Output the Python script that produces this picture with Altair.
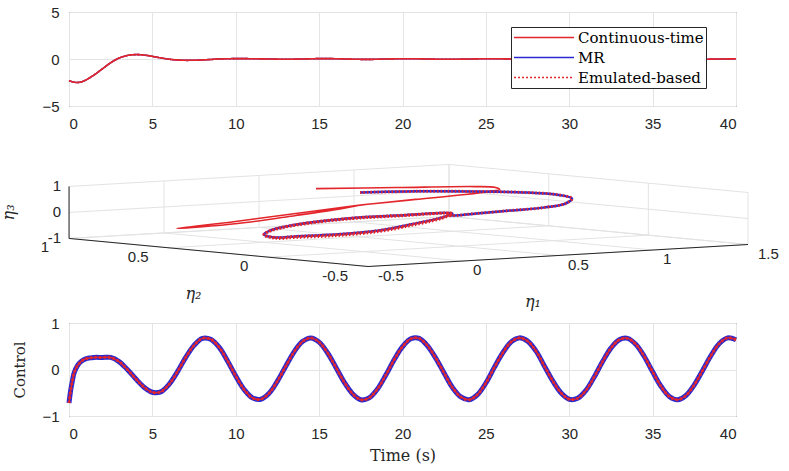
import altair as alt
import pandas as pd

# ---------------- data ----------------
SERIES = ["Continuous-time", "MR", "Emulated-based"]
RED = "#e3262b"
BLUE = "#2a2ad0"

# top panel (first state vs time)
top_t = [0, 0.25, 0.5, 0.75, 1.0, 1.5, 2.0, 2.5, 3.0, 3.5, 4.0, 4.5, 5.0, 5.5, 6.0, 6.5, 7.0,
         7.5, 8.0, 8.5, 9.0, 10, 11, 12, 13, 14, 15, 16, 17, 18, 19, 20, 21, 22, 23, 24, 25,
         26, 27, 28, 29, 30, 31, 32, 33, 34, 35, 36, 37, 38, 39, 40]
top_ct = [-2.3, -2.45, -2.5, -2.42, -2.25, -1.7, -1.05, -0.4, 0.1, 0.38, 0.47, 0.42, 0.28,
          0.12, -0.02, -0.1, -0.14, -0.13, -0.1, -0.05, 0.0, 0.04, 0.03, 0.0, -0.03, 0.0,
          0.04, 0.03, -0.02, -0.04, 0.0, 0.03, 0.02, -0.02, -0.03, 0.0, 0.03, 0.02, -0.02,
          -0.03, 0.0, 0.03, 0.02, -0.02, -0.03, 0.0, 0.03, 0.02, -0.02, -0.03, 0.0, 0.02]
top_mr = top_ct
top_em = top_ct

# bottom panel (control vs time)
ctl_t = [0, 0.1, 0.2, 0.3, 0.5, 0.75, 1.0, 1.25, 1.5, 2.0, 2.5, 3.0, 3.5, 4.0, 4.5, 5.0, 5.5,
         6.0, 6.5, 7.0, 7.5, 8.0, 8.5, 9.0, 9.5, 10.0, 10.5, 11.0, 11.5, 12.0, 12.5, 13.0,
         13.5, 14.0, 14.5, 15.0, 15.5, 16.0, 16.5, 17.0, 17.5, 18.0, 18.5, 19.0, 19.5, 20.0,
         20.5, 21.0, 21.5, 22.0, 22.5, 23.0, 23.5, 24.0, 24.5, 25.0, 25.5, 26.0, 26.5, 27.0,
         27.5, 28.0, 28.5, 29.0, 29.5, 30.0, 30.5, 31.0, 31.5, 32.0, 32.5, 33.0, 33.5, 34.0,
         34.5, 35.0, 35.5, 36.0, 36.5, 37.0, 37.5, 38.0, 38.5, 39.0, 39.5, 40.0]
ctl_ct = [-0.72, -0.45, -0.25, -0.08, 0.08, 0.18, 0.23, 0.25, 0.26, 0.26, 0.26, 0.17, 0.0,
          -0.2, -0.38, -0.49, -0.48, -0.32, -0.05, 0.26, 0.52, 0.67, 0.65, 0.48, 0.19, -0.14,
          -0.43, -0.61, -0.64, -0.51, -0.25, 0.07, 0.38, 0.60, 0.68, 0.59, 0.36, 0.05, -0.27,
          -0.52, -0.65, -0.61, -0.42, -0.12, 0.21, 0.49, 0.66, 0.67, 0.51, 0.24, -0.08, -0.39,
          -0.59, -0.65, -0.54, -0.29, 0.04, 0.35, 0.59, 0.68, 0.61, 0.40, 0.08, -0.24, -0.50,
          -0.64, -0.62, -0.45, -0.16, 0.17, 0.46, 0.64, 0.67, 0.54, 0.28, -0.05, -0.36, -0.58,
          -0.65, -0.56, -0.33, -0.02, 0.30, 0.56, 0.68, 0.64]
ctl_mr = ctl_ct
ctl_em = ctl_ct

# middle panel: 3-D trajectories (eta1, eta2, eta3)
ct_e1 = [0.59, 0.89, 1.18, 1.21, 1.20, 1.15, 1.05, 0.81, 0.63, 0.55, 0.20, -0.18, -0.48, -0.20, 0.18, 0.43, 0.55]
ct_e2 = [0.80, 0.68, 0.56, 0.49, 0.46, 0.46, 0.49, 0.51, 0.54, 0.55, 0.53, 0.47, 0.48, 0.44, 0.51, 0.52, 0.55]
ct_e3 = [0.60, 0.60, 0.60, 0.60, 0.55, 0.50, 0.40, 0.30, 0.20, 0.15, 0.00, -0.10, -0.25, -0.15, -0.05, 0.10, 0.15]

mr_e1 = [0.78, 1.00, 1.19, 1.32, 1.39, 1.35, 1.20, 1.03, 0.87, 0.70, 0.59, 0.71, 0.46, 0.24, -0.09,
         -0.33, -0.45, -0.47, -0.37, -0.22, 0.02, 0.34, 0.58, 0.71]
mr_e2 = [0.76, 0.69, 0.57, 0.44, 0.36, 0.24, 0.13, 0.08, 0.09, 0.10, 0.13, 0.23, 0.27, 0.31, 0.25,
         0.15, 0.07, -0.01, -0.01, -0.07, -0.06, 0.06, 0.16, 0.23]
mr_e3 = [0.40, 0.40, 0.40, 0.40, 0.35, 0.30, 0.25, 0.20, 0.15, 0.10, 0.05, 0.00, 0.00, -0.05, -0.10,
         -0.15, -0.20, -0.25, -0.25, -0.20, -0.15, -0.10, -0.05, 0.00]
# emulated-based: same transient, limit cycle traced a second time slightly lower
em_e1 = mr_e1 + [0.46, 0.24, -0.09, -0.33, -0.45, -0.47, -0.37, -0.22, 0.02, 0.34, 0.58, 0.71]
em_e2 = mr_e2 + [0.27, 0.31, 0.25, 0.15, 0.07, -0.01, -0.01, -0.07, -0.06, 0.06, 0.16, 0.23]
em_e3 = mr_e3 + [-0.02, -0.07, -0.12, -0.17, -0.22, -0.28, -0.29, -0.24, -0.19, -0.14, -0.08, -0.02]

eta1_ticks = [-0.5, 0, 0.5, 1, 1.5]
eta2_ticks = [-0.5, 0, 0.5, 1]
eta3_ticks = [-1, 0, 1]

# ---------------- layout constants ----------------
W = 667
TOP_H = 94
BOT_H = 93
MID_TOP = 131.5
MID_H = 181

FONT = "Liberation Sans"
SERIF = "DejaVu Serif"
TXT = "#262626"
AX = dict(labelFont=FONT, labelFontSize=15, labelColor=TXT, ticks=False, domain=False,
          grid=True, gridColor="#e4e4e4", gridWidth=1, labelPadding=10, format="~g")

# ---------------- top panel ----------------
top_df = pd.concat([
    pd.DataFrame({"t": top_t, "v": top_ct, "series": SERIES[0]}),
    pd.DataFrame({"t": top_t, "v": top_mr, "series": SERIES[1]}),
    pd.DataFrame({"t": top_t, "v": top_em, "series": SERIES[2]}),
])

LEG = alt.Legend(title=None, orient="none", legendX=442, legendY=15,
                 symbolType="M-1,0H7", symbolSize=225, labelOffset=48,
                 labelFont=SERIF, labelFontSize=15, labelColor="black",
                 rowPadding=3, padding=2, strokeColor=TXT, fillColor="white",
                 cornerRadius=0)

xt = alt.X("t:Q", scale=alt.Scale(domain=[0, 40], nice=False),
           axis=alt.Axis(values=[0, 5, 10, 15, 20, 25, 30, 35, 40], title=None, **AX))
yt = alt.Y("v:Q", scale=alt.Scale(domain=[-5, 5], nice=False),
           axis=alt.Axis(values=[-5, 0, 5], title=None, **AX))

def top_layer(name):
    return alt.Chart(top_df).transform_filter(alt.datum.series == name).mark_line(
        interpolate="catmull-rom").encode(
        x=xt, y=yt,
        color=alt.Color("series:N", scale=alt.Scale(domain=SERIES, range=[RED, BLUE, RED]), legend=LEG),
        strokeDash=alt.StrokeDash("series:N", scale=alt.Scale(domain=SERIES, range=[[1, 0], [1, 0], [2, 2]]), legend=LEG),
        strokeWidth=alt.StrokeWidth("series:N", scale=alt.Scale(domain=SERIES, range=[1.6, 1.6, 3]), legend=LEG),
    )

top = alt.layer(top_layer(SERIES[1]), top_layer(SERIES[0]), top_layer(SERIES[2])).properties(
    width=W, height=TOP_H)

# ---------------- middle panel (3-D projection) ----------------
PXE = "299 + 190*(datum.{a}+0.5) - 199.3*(datum.{b}+0.5)"
PYE = "265 - 11*(datum.{a}+0.5) - 18.7*(datum.{b}+0.5) - 26*(datum.{c}+1)"

def proj(ch, a="e1", b="e2", c="e3", px="px", py="py"):
    return ch.transform_calculate(**{px: PXE.format(a=a, b=b), py: PYE.format(a=a, b=b, c=c)})

XS = alt.Scale(domain=[0, W], nice=False, zero=False)
YS = alt.Scale(domain=[MID_TOP, MID_TOP + MID_H], reverse=True, nice=False, zero=False)

segs = []
for v in eta1_ticks:
    segs.append(("grid", v, 1, -1, v, 1, 1))
    segs.append(("grid", v, -0.5, -1, v, 1, -1))
for v in eta2_ticks:
    segs.append(("grid", 1.5, v, -1, 1.5, v, 1))
    segs.append(("grid", -0.5, v, -1, 1.5, v, -1))
for v in eta3_ticks:
    segs.append(("grid", -0.5, 1, v, 1.5, 1, v))
    segs.append(("grid", 1.5, -0.5, v, 1.5, 1, v))
segs.append(("axis", eta1_ticks[0], eta2_ticks[0], -1, eta1_ticks[-1], eta2_ticks[0], -1))
segs.append(("axis", eta1_ticks[0], eta2_ticks[0], -1, eta1_ticks[0], eta2_ticks[-1], -1))
segs.append(("axis", eta1_ticks[0], eta2_ticks[-1], -1, eta1_ticks[0], eta2_ticks[-1], 1))
seg_df = pd.DataFrame(segs, columns=["kind", "e1", "e2", "e3", "f1", "f2", "f3"])

def seg_layer(kind, color):
    ch = alt.Chart(seg_df).transform_filter(alt.datum.kind == kind)
    ch = proj(ch)
    ch = proj(ch, "f1", "f2", "f3", "qx", "qy")
    return ch.mark_rule(color=color, strokeWidth=1).encode(
        x=alt.X("px:Q", scale=XS, axis=None), y=alt.Y("py:Q", scale=YS, axis=None),
        x2="qx:Q", y2="qy:Q")

def curve(e1, e2, e3, **style):
    df = pd.DataFrame({"e1": e1, "e2": e2, "e3": e3, "k": list(range(len(e1)))})
    return proj(alt.Chart(df)).mark_line(interpolate="catmull-rom", **style).encode(
        x=alt.X("px:Q", scale=XS, axis=None), y=alt.Y("py:Q", scale=YS, axis=None),
        order="k:Q")

def fmt(v):
    return f"{v:g}"

lab1 = pd.DataFrame({"e1": eta1_ticks, "e2": -0.5, "e3": -1, "lab": [fmt(v) for v in eta1_ticks]})
lab2 = pd.DataFrame({"e1": -0.5, "e2": eta2_ticks, "e3": -1, "lab": [fmt(v) for v in eta2_ticks]})
lab3 = pd.DataFrame({"e1": -0.5, "e2": 1, "e3": eta3_ticks, "lab": [fmt(v) for v in eta3_ticks]})

def text_layer(df, **style):
    return proj(alt.Chart(df)).mark_text(**style).encode(
        x=alt.X("px:Q", scale=XS, axis=None), y=alt.Y("py:Q", scale=YS, axis=None),
        text="lab:N")

t1 = pd.DataFrame({"e1": [0.5], "e2": [-0.5], "e3": [-1], "lab": ["η₁"]})
t2 = pd.DataFrame({"e1": [-0.5], "e2": [0.25], "e3": [-1], "lab": ["η₂"]})
t3 = pd.DataFrame({"e1": [-0.5], "e2": [1], "e3": [0], "lab": ["η₃"]})

TICKSTYLE = dict(font=FONT, fontSize=15, color=TXT, baseline="middle")
TITLESTYLE = dict(font=SERIF, fontSize=16, fontStyle="italic", color=TXT, baseline="middle",
                  align="center")

mid = alt.layer(
    seg_layer("grid", "#e3e3e3"),
    seg_layer("axis", TXT),
    curve(ct_e1, ct_e2, ct_e3, color=RED, strokeWidth=1.6),
    curve(mr_e1, mr_e2, mr_e3, color=BLUE, strokeWidth=2.5),
    curve(em_e1, em_e2, em_e3, color=RED, strokeWidth=3, strokeDash=[1.5, 2]),
    text_layer(lab1, align="left", dx=10, dy=9, **TICKSTYLE),
    text_layer(lab2, align="right", dx=-20, dy=9, **TICKSTYLE),
    text_layer(lab3, align="right", dx=-8, dy=0, **TICKSTYLE),
    text_layer(t1, dx=-25, dy=46, **TITLESTYLE),
    text_layer(t2, dx=-25, dy=42, **TITLESTYLE),
    text_layer(t3, dx=0, dy=-60, angle=270, **TITLESTYLE),
).properties(width=W, height=MID_H, view=alt.ViewBackground(stroke="transparent"))

# ---------------- bottom panel ----------------
bot_df = pd.DataFrame({"t": ctl_t, "ct": ctl_ct, "mr": ctl_mr, "em": ctl_em})
xb = alt.X("t:Q", scale=alt.Scale(domain=[0, 40], nice=False),
           axis=alt.Axis(values=[0, 5, 10, 15, 20, 25, 30, 35, 40], title="Time (s)",
                         titleFont=SERIF, titleFontSize=16, titleFontWeight="normal",
                         titleColor=TXT, titlePadding=6, **AX))
def yb(field):
    return alt.Y(f"{field}:Q", scale=alt.Scale(domain=[-1, 1], nice=False),
                 axis=alt.Axis(values=[-1, 0, 1], title="Control",
                               titleFont=SERIF, titleFontSize=15, titleFontWeight="normal",
                               titleColor=TXT, titlePadding=14, **AX))

bot = alt.layer(
    alt.Chart(bot_df).mark_line(color=BLUE, strokeWidth=5, interpolate="catmull-rom").encode(x=xb, y=yb("mr")),
    alt.Chart(bot_df).mark_line(color=RED, strokeWidth=1.5, interpolate="catmull-rom").encode(x=xb, y=yb("ct")),
    alt.Chart(bot_df).mark_line(color=RED, strokeWidth=3, strokeDash=[2, 2.5], interpolate="catmull-rom").encode(x=xb, y=yb("em")),
).properties(width=W, height=BOT_H)

chart = alt.vconcat(top, mid, bot, spacing=0).properties(
    padding={"left": 0, "top": 4, "right": 0, "bottom": 0},
    background="white",
).configure_view(stroke=TXT, strokeWidth=1)

chart.save("out.html", embed_options={"renderer": "svg", "actions": False})
